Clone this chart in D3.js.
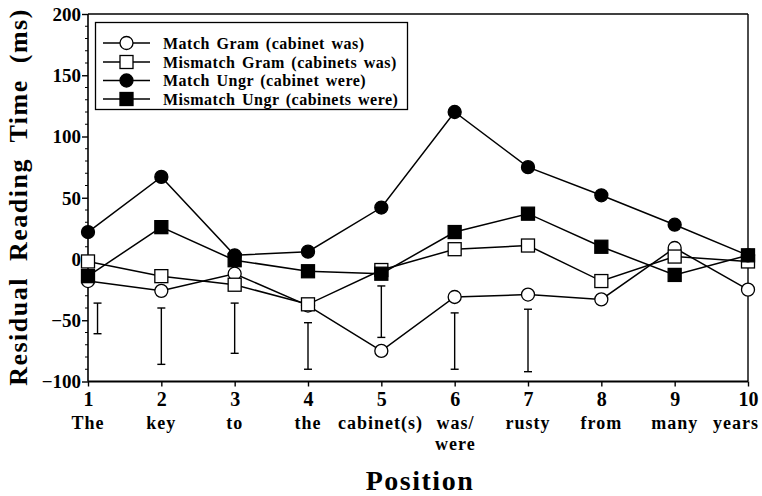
<!DOCTYPE html>
<html>
<head>
<meta charset="utf-8">
<script src="https://cdn.jsdelivr.net/npm/d3@7"></script>
<style>
  html, body { margin: 0; padding: 0; background: #fff; }
  svg text { font-family: "Liberation Serif", "Times New Roman", serif; font-weight: bold; fill: #000; }
</style>
</head>
<body>
<svg id="chart" width="762" height="496"></svg>
<script>
// ---- data ----
const positions = [1, 2, 3, 4, 5, 6, 7, 8, 9, 10];
const words = [["The"], ["key"], ["to"], ["the"], ["cabinet(s)"], ["was/", "were"], ["rusty"], ["from"], ["many"], ["years"]];
const yTicks = [-100, -50, 0, 50, 100, 150, 200];

const matchGram    = [-18, -26, -12, -38, -75, -31, -29, -33, 9, -25];
const mismatchGram = [-2, -14, -21, -37, -9, 8, 11, -18, 2, -2];
const matchUngr    = [22, 67, 3, 6, 42, 120, 75, 52, 28, 3];
const mismatchUngr = [-14, 26, -1, -10, -12, 22, 37, 10, -13, 3];

const errPos = [1.13, 2, 3, 4, 5, 6, 7];
const errTop = [-36, -40, -36, -52, -22, -44, -41];
const errBot = [-61, -86, -77, -90, -64, -90, -92];

const seriesNames = ["Match Gram (cabinet was)", "Mismatch Gram (cabinets was)", "Match Ungr (cabinet were)", "Mismatch Ungr (cabinets were)"];
const seriesData = [matchGram, mismatchGram, matchUngr, mismatchUngr];
const seriesShape = ["circle", "square", "circle", "square"];
const seriesFill = ["#fff", "#fff", "#000", "#000"];

// ---- layout ----
const W = 762;
const svg = d3.select("#chart");
const x = d3.scaleLinear().domain([1, 10]).range([88, 748]);
const y = d3.scaleLinear().domain([-100, 200]).range([381.5, 14]);

// frame (top and right)
svg.append("line").attr("x1", x(1)).attr("x2", x(10)).attr("y1", y(200)).attr("y2", y(200))
  .attr("stroke", "#000").attr("stroke-width", 1.4);
svg.append("line").attr("x1", x(10)).attr("x2", x(10)).attr("y1", y(200)).attr("y2", y(-100))
  .attr("stroke", "#000").attr("stroke-width", 1.4);

// y axis
const yAxis = d3.axisLeft(y).tickValues(yTicks).tickSize(6).tickFormat(d3.format("d"));
const gy = svg.append("g").attr("transform", `translate(${x(1)},0)`).call(yAxis);
gy.attr("font-family", null).attr("font-size", null);
gy.select(".domain").attr("stroke-width", 1.6).attr("d", `M0,${y(200)}V${y(-100)}`);
gy.selectAll(".tick line").attr("stroke-width", 1.4);
gy.selectAll(".tick text").attr("font-size", 19).attr("x", -7).attr("dy", "0.34em");
// minor ticks
const minor = d3.range(-100, 201, 10).filter(v => yTicks.indexOf(v) < 0);
svg.append("g").selectAll("line").data(minor).join("line")
  .attr("x1", x(1) - 3).attr("x2", x(1)).attr("y1", d => y(d)).attr("y2", d => y(d))
  .attr("stroke", "#000").attr("stroke-width", 1);

// x axis
const xAxis = d3.axisBottom(x).tickValues(positions).tickSize(5).tickFormat(d3.format("d"));
const gx = svg.append("g").attr("transform", `translate(0,${y(-100)})`).call(xAxis);
gx.attr("font-family", null).attr("font-size", null);
gx.select(".domain").attr("stroke-width", 1.8).attr("d", `M${x(1)},0H${x(10)}`);
gx.selectAll(".tick line").attr("stroke-width", 1.4);
gx.selectAll(".tick text").attr("font-size", 20).attr("y", 7).attr("dy", "0.88em");

// word labels: centered under ticks, then nudged apart so they don't collide or leave the page
const wg = svg.append("g");
const groups = positions.map((p, i) => {
  const t = wg.append("text").attr("x", 0).attr("y", 429)
    .attr("text-anchor", "middle").attr("font-size", 18).attr("letter-spacing", 1);
  words[i].forEach((w, j) => {
    t.append("tspan").attr("x", 0).attr("dy", j === 0 ? 0 : 20.5).text(w);
  });
  const wid = d3.max(t.selectAll("tspan").nodes(), n => n.getComputedTextLength());
  return { t, cx: x(p), w: wid };
});
const gap = 12;
for (let iter = 0; iter < 20; iter++) {
  const last = groups[groups.length - 1];
  if (last.cx + last.w / 2 > W - 3) last.cx = W - 3 - last.w / 2;
  for (let i = 1; i < groups.length; i++) {
    const a = groups[i - 1], b = groups[i];
    const overlap = (a.cx + a.w / 2 + gap) - (b.cx - b.w / 2);
    if (overlap > 0) { a.cx -= overlap / 2; b.cx += overlap / 2; }
  }
}
groups.forEach(o => o.t.attr("transform", `translate(${o.cx},0)`));

// axis titles
svg.append("text").attr("x", 420).attr("y", 490).attr("text-anchor", "middle")
  .attr("font-size", 28).attr("letter-spacing", 1.5).text("Position");
svg.append("text").attr("transform", `translate(27,197) rotate(-90)`).attr("text-anchor", "middle")
  .attr("font-size", 26).attr("letter-spacing", 1.5).attr("word-spacing", 8)
  .text("Residual Reading Time (ms)");

// error bars
const eg = svg.append("g").attr("stroke", "#000").attr("stroke-width", 1.4);
errPos.forEach((p, i) => {
  const cx = x(p);
  eg.append("line").attr("x1", cx).attr("x2", cx).attr("y1", y(errTop[i])).attr("y2", y(errBot[i]));
  eg.append("line").attr("x1", cx - 4).attr("x2", cx + 4).attr("y1", y(errTop[i])).attr("y2", y(errTop[i]));
  eg.append("line").attr("x1", cx - 4).attr("x2", cx + 4).attr("y1", y(errBot[i])).attr("y2", y(errBot[i]));
});

// series lines
const line = d3.line().x((d, i) => x(positions[i])).y(d => y(d));
seriesData.forEach(s => {
  svg.append("path").attr("d", line(s)).attr("fill", "none").attr("stroke", "#000").attr("stroke-width", 1.5);
});

function marker(g, shape, fill, cx, cy) {
  if (shape === "circle") {
    g.append("circle").attr("cx", cx).attr("cy", cy).attr("r", 6.5)
      .attr("fill", fill).attr("stroke", "#000").attr("stroke-width", 1.3);
  } else {
    g.append("rect").attr("x", cx - 6.5).attr("y", cy - 6.5).attr("width", 13).attr("height", 13)
      .attr("fill", fill).attr("stroke", "#000").attr("stroke-width", 1.3);
  }
}

// markers
seriesData.forEach((s, k) => {
  const g = svg.append("g");
  s.forEach((v, i) => marker(g, seriesShape[k], seriesFill[k], x(positions[i]), y(v)));
});

// legend
const lg = svg.append("g");
lg.append("rect").attr("x", 95.5).attr("y", 22.5).attr("width", 312).attr("height", 87)
  .attr("fill", "#fff").attr("stroke", "#000").attr("stroke-width", 1.3);
const rowY = [43, 62, 80.5, 99];
seriesNames.forEach((name, k) => {
  lg.append("line").attr("x1", 103).attr("x2", 150).attr("y1", rowY[k]).attr("y2", rowY[k])
    .attr("stroke", "#000").attr("stroke-width", 1.5);
  marker(lg, seriesShape[k], seriesFill[k], 126.5, rowY[k]);
  lg.append("text").attr("x", 163).attr("y", rowY[k]).attr("dy", "0.35em")
    .attr("font-size", 16).attr("letter-spacing", 0.5).attr("word-spacing", 2).text(name);
});
</script>
</body>
</html>
